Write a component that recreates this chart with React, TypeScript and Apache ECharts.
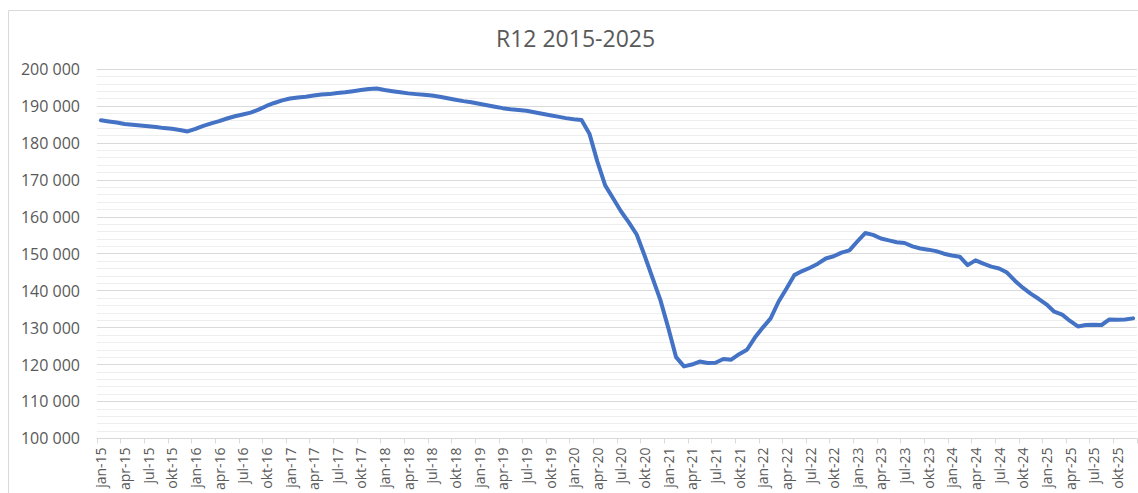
import React, { useEffect, useRef } from "react";
import * as echarts from "echarts";

const monthNames = ["jan", "feb", "mar", "apr", "maj", "jun", "jul", "aug", "sep", "okt", "nov", "dec"];
const years = [15, 16, 17, 18, 19, 20, 21, 22, 23, 24, 25];
const categories: string[] = [];
years.forEach((y) => monthNames.forEach((m) => categories.push(`${m}-${y}`)));

const values2015 = [186100, 185800, 185500, 185100, 184900, 184700, 184500, 184300, 184000, 183800, 183500, 183100];
const values2016 = [183800, 184600, 185300, 185900, 186600, 187200, 187700, 188200, 189000, 190000, 190800, 191500];
const values2017 = [192000, 192300, 192500, 192800, 193100, 193200, 193500, 193700, 194000, 194300, 194600, 194700];
const values2018 = [194300, 194000, 193700, 193400, 193200, 193000, 192800, 192500, 192100, 191700, 191300, 191000];
const values2019 = [190600, 190200, 189800, 189400, 189100, 188900, 188700, 188300, 187900, 187500, 187100, 186700];
const values2020 = [186400, 186200, 182500, 175000, 168500, 165000, 161500, 158500, 155200, 149500, 143500, 137500];
const values2021 = [130000, 122000, 119500, 120000, 120800, 120400, 120500, 121500, 121300, 122800, 124000, 127300];
const values2022 = [130000, 132500, 137000, 140500, 144200, 145300, 146200, 147300, 148700, 149300, 150300, 150900];
const values2023 = [153300, 155600, 155100, 154100, 153600, 153100, 152900, 152000, 151400, 151100, 150700, 150000];
const values2024 = [149500, 149200, 146900, 148200, 147300, 146500, 146000, 144900, 142700, 140800, 139200, 137800];
const values2025 = [136300, 134300, 133500, 131800, 130300, 130700, 130800, 130700, 132200, 132100, 132200, 132500];

const seriesValues = [
  ...values2015, ...values2016, ...values2017, ...values2018, ...values2019, ...values2020,
  ...values2021, ...values2022, ...values2023, ...values2024, ...values2025,
];

const titleText = "R12 2015-2025";
const yMin = 100000;
const yMax = 200000;
const yStep = 10000;

const FONT = "'Open Sans', 'Liberation Sans', sans-serif";

export default function App() {
  const ref = useRef<HTMLDivElement>(null);
  useEffect(() => {
    if (!ref.current) return;
    const chart = echarts.init(ref.current, undefined, { renderer: "svg" });
    chart.setOption({
      animation: false,
      backgroundColor: "#ffffff",
      textStyle: { fontFamily: FONT },
      title: {
        text: titleText,
        left: 491,
        top: 21,
        textStyle: { fontFamily: FONT, fontSize: 23, fontWeight: "normal", color: "#595959" },
      },
      graphic: [
        {
          type: "rect",
          shape: { x: 8.5, y: 10.5, width: 1300, height: 700 },
          style: { fill: "none", stroke: "#d9d9d9", lineWidth: 1 },
          silent: true,
          z: -1,
        },
      ],
      grid: { left: 97, right: 1, top: 69, bottom: 52, containLabel: false },
      xAxis: {
        type: "category",
        data: categories,
        boundaryGap: true,
        axisLine: { show: true, lineStyle: { color: "#d9d9d9", width: 1 } },
        axisTick: { show: true, interval: 2, length: 5, lineStyle: { color: "#d9d9d9" } },
        axisLabel: {
          interval: 2,
          rotate: 90,
          margin: 9,
          fontSize: 14,
          color: "#595959",
          fontFamily: FONT,
        },
        splitLine: { show: false },
      },
      yAxis: {
        type: "value",
        min: yMin,
        max: yMax,
        interval: yStep,
        axisLine: { show: false },
        axisTick: { show: false },
        axisLabel: {
          fontSize: 16,
          color: "#595959",
          margin: 17,
          fontFamily: FONT,
          formatter: (v: number) => String(v).replace(/\B(?=(\d{3})+(?!\d))/g, " "),
        },
        splitLine: { show: true, lineStyle: { color: "#d9d9d9", width: 1 } },
        minorTick: { show: false, splitNumber: 5 },
        minorSplitLine: { show: true, lineStyle: { color: "#eeeeee", width: 1 } },
      },
      series: [
        {
          type: "line",
          data: seriesValues,
          showSymbol: false,
          symbol: "none",
          lineStyle: { color: "#4472c4", width: 4, join: "round", cap: "round" },
          itemStyle: { color: "#4472c4" },
        },
      ],
    });
    return () => chart.dispose();
  }, []);
  return (
    <div
      ref={ref}
      style={{ position: "fixed", left: 0, top: 0, width: 1138, height: 493 }}
    />
  );
}
